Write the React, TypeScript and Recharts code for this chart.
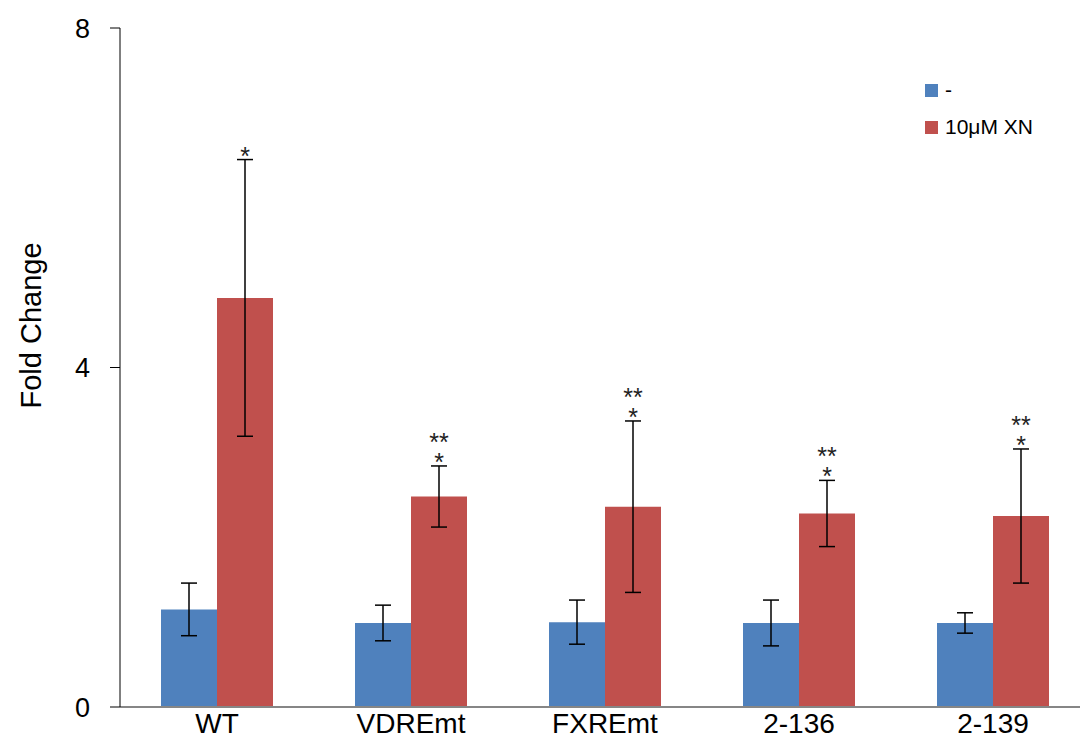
import React from "react";
import { BarChart, Bar, XAxis, YAxis, ErrorBar, LabelList } from "recharts";

const categories = ["WT", "VDREmt", "FXREmt", "2-136", "2-139"];
const controlValues = [1.15, 0.99, 1.0, 0.99, 0.99];
const controlErrors = [0.31, 0.21, 0.26, 0.27, 0.12];
const xnValues = [4.82, 2.48, 2.36, 2.28, 2.25];
const xnErrors = [1.63, 0.36, 1.01, 0.39, 0.79];
const stars = [["*"], ["**", "*"], ["**", "*"], ["**", "*"], ["**", "*"]];
const yTicks = [0, 4, 8];

const BLUE = "#4F81BD";
const RED = "#C0504D";
const FONT = "'Liberation Sans', Arial, sans-serif";

const data = categories.map((name, i) => ({
  name,
  control: controlValues[i],
  controlErr: controlErrors[i],
  xn: xnValues[i],
  xnErr: xnErrors[i],
}));

// asterisks sit above the top of the red error bar
function StarLabel(props: any) {
  const { x, y, width, height, value, index } = props;
  if (!value) return null;
  const perUnit = height / value;
  const errTop = y - xnErrors[index] * perUnit;
  const cx = x + width / 2;
  const lines = stars[index];
  const firstY = errTop + 5 - (lines.length - 1) * 20;
  return (
    <text x={cx} y={firstY} textAnchor="middle" fontSize={25} fontFamily={FONT} fill="#222">
      {lines.map((s, k) => (
        <tspan key={k} x={cx} dy={k === 0 ? 0 : 20}>
          {s}
        </tspan>
      ))}
    </text>
  );
}

function YLabel(props: any) {
  const { viewBox } = props;
  const cx = 31;
  const cy = viewBox.y + viewBox.height / 2 - 42;
  return (
    <text
      x={cx}
      y={cy}
      transform={`rotate(-90, ${cx}, ${cy})`}
      textAnchor="middle"
      dominantBaseline="central"
      fontSize={29}
      fontFamily={FONT}
      fill="#000"
    >
      Fold Change
    </text>
  );
}

function LegendBox() {
  const items = [
    { label: "-", color: BLUE },
    { label: "10μM XN", color: RED },
  ];
  return (
    <div
      style={{
        position: "absolute",
        left: 925,
        top: 79,
        fontFamily: FONT,
        fontSize: 21,
        color: "#000",
        lineHeight: "22px",
      }}
    >
      {items.map((it, i) => (
        <div
          key={i}
          style={{ display: "flex", alignItems: "center", height: 22, marginBottom: i === 0 ? 15 : 0 }}
        >
          <span style={{ width: 13, height: 13, background: it.color, display: "inline-block", marginRight: 7 }} />
          <span>{it.label}</span>
        </div>
      ))}
    </div>
  );
}

export default function App() {
  return (
    <div
      style={{
        position: "absolute",
        left: 0,
        top: 0,
        width: 1080,
        height: 749,
        overflow: "hidden",
        background: "#fff",
      }}
    >
      <BarChart
        width={1090}
        height={749}
        data={data}
        margin={{ top: 28, right: 0, bottom: 0, left: 0 }}
        barCategoryGap={41}
        barGap={0}
      >
        <XAxis
          dataKey="name"
          tickLine={false}
          axisLine={{ stroke: "#868686", strokeWidth: 2 }}
          tick={{ fill: "#000", fontSize: 28, fontFamily: FONT }}
          tickMargin={0}
          height={42}
          interval={0}
        />
        <YAxis
          domain={[0, 8]}
          ticks={yTicks}
          width={120}
          tickSize={10}
          tickMargin={20}
          axisLine={{ stroke: "#000" }}
          tickLine={{ stroke: "#000" }}
          tick={{ fill: "#000", fontSize: 27, fontFamily: FONT }}
          label={<YLabel />}
        />
        <Bar dataKey="control" name="-" fill={BLUE} isAnimationActive={false}>
          <ErrorBar dataKey="controlErr" width={8} stroke="#000" strokeWidth={1.5} />
        </Bar>
        <Bar dataKey="xn" name="10μM XN" fill={RED} isAnimationActive={false}>
          <ErrorBar dataKey="xnErr" width={8} stroke="#000" strokeWidth={1.5} />
          <LabelList dataKey="xn" content={<StarLabel />} />
        </Bar>
      </BarChart>
      <LegendBox />
    </div>
  );
}
